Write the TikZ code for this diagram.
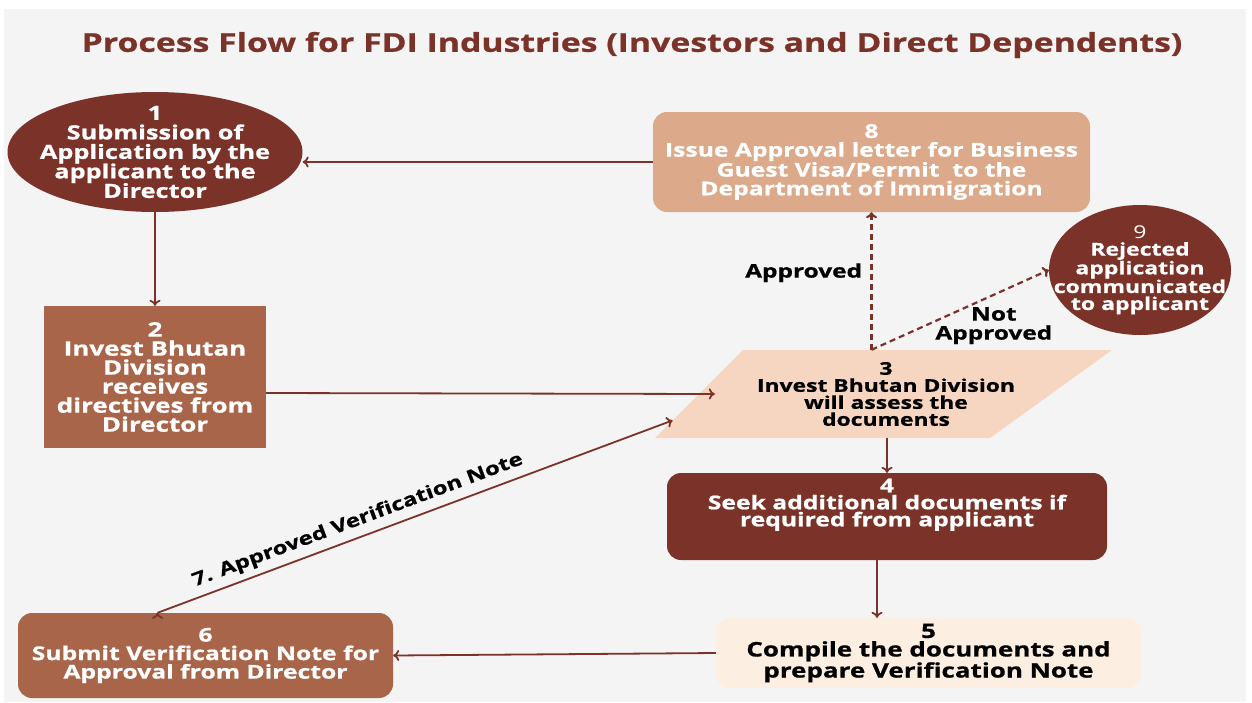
\documentclass[tikz,border=0pt]{standalone}
\usepackage{fontspec}
\setmainfont{Open Sans}[FakeStretch=1.3,BoldFeatures={FakeBold=0.8}]
\usetikzlibrary{arrows.meta,calc,positioning,shapes.geometric}

\definecolor{darkbrown}{HTML}{7B3329}
\definecolor{midbrown}{HTML}{A8654A}
\definecolor{sandbrown}{HTML}{DCA98A}
\definecolor{peach}{HTML}{F6D6C0}
\definecolor{cream}{HTML}{FDEEE2}
\definecolor{paper}{HTML}{F4F4F4}

\newcommand{\setsz}[2]{\fontsize{#1pt}{#2pt}\selectfont}

\begin{document}
\begin{tikzpicture}[x=1pt,y=-1pt,
    every node/.style={align=center,font=\bfseries},
    box/.style={rectangle,rounded corners=14pt,inner sep=0pt,text=white},
    oval/.style={ellipse,inner sep=-25pt,text=white},
    flow/.style={draw=darkbrown,line width=1.8pt,-{To[length=6pt,width=11pt]}},
    maybe/.style={flow,line width=2.2pt,dash pattern=on 6pt off 4pt}]

  \useasboundingbox (0,0) rectangle (1252,702);
  \fill[paper] (4,9) rectangle (1246,702);

  % title
  \node (title) at (632,45) [text=darkbrown,font=\setsz{26}{30}\bfseries]
    {Process Flow for FDI Industries (Investors and Direct Dependents)};

  % left column
  \node[oval,fill=darkbrown,minimum width=295pt,minimum height=120pt,font=\setsz{19.5}{19.5}\bfseries]
    (s1) at (155,152) {1\\Submission of\\Application by the\\applicant to the\\Director};
  \node[rectangle,inner sep=0pt,text=white,fill=midbrown,minimum width=222pt,minimum height=142pt,font=\setsz{20}{19}\bfseries]
    (s2) at (155,377) {2\\Invest Bhutan\\Division\\receives\\directives from\\Director};
  \node[box,fill=midbrown,minimum width=375pt,minimum height=85pt,font=\setsz{19}{18.5}\bfseries]
    (s6) at (205.5,655.5) {6\\Submit Verification Note for\\Approval from Director};

  % right column
  \node[box,fill=sandbrown,minimum width=437pt,minimum height=100pt,font=\setsz{19}{18.7}\bfseries]
    (s8) at (871.5,162) {8\\Issue Approval letter for Business\\Guest Visa/Permit\ \ to the\\Department of Immigration};
  \node[oval,fill=darkbrown,minimum width=182pt,minimum height=130pt,font=\setsz{17.7}{17}\bfseries]
    (s9) at (1140,270) {{\mdseries 9}\\Rejected\\application\\communicated\\to applicant};

  \fill[peach] (743,350) -- (1112,350) -- (990,438) -- (655,438) -- cycle;
  \node[rectangle,inner sep=0pt,minimum width=342pt,minimum height=88pt,font=\setsz{17.6}{17}\bfseries]
    (s3) at (886,394) {3\\Invest Bhutan Division\\will assess the\\documents};
  \coordinate (s3in) at ($(655,438)!0.2!(743,350)$);

  \node[box,fill=darkbrown,minimum width=440pt,minimum height=87pt,text depth=28pt,font=\setsz{19}{17}\bfseries]
    (s4) at (887,516.5) {4\\Seek additional documents if\\required from applicant};
  \node[box,fill=cream,text=black,minimum width=425pt,minimum height=70pt,font=\setsz{20}{18.5}\bfseries]
    (s5) at (928.5,653) {5\\Compile the documents and\\prepare Verification Note};

  \coordinate (s45) at ([xshift=-10pt]s4.south);
  \coordinate (s36) at ([xshift=-48pt]s6.north);

  \path[flow]
    (s8.west) edge (s8.west -| s1.east)
    (s1) edge (s2)
    ([yshift=-16pt]s2.east) edge (s3.west)
    (s3.north -| s8.south) edge[maybe] node[pos=0.56,left=5pt,font=\setsz{18.8}{19}\bfseries] {Approved} (s8.south)
    (s3.north -| s8.south) edge[maybe] node[pos=0.69,below=8pt,font=\setsz{18.8}{19}\bfseries] {Not\\Approved} (s9.west)
    (s3.south -| s4.north) edge (s4.north)
    (s45) edge (s45 |- s5.north)
    (s5.west) edge (s6.east)
    (s36) edge node[pos=0.40,sloped,above=3pt,font=\setsz{18.3}{19}\bfseries] {7. Approved Verification Note} (s3in);
\end{tikzpicture}
\end{document}
